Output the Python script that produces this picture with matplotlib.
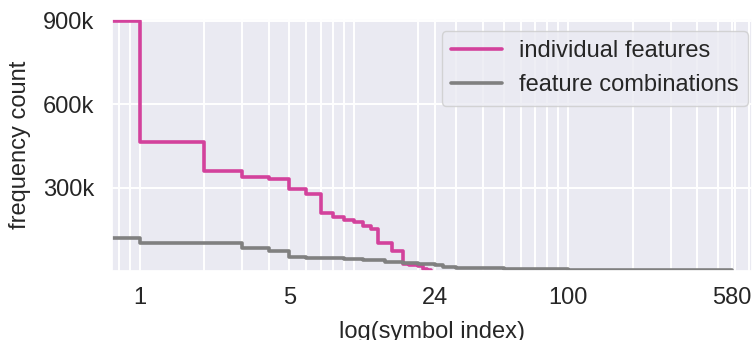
import matplotlib
matplotlib.use('Agg')
import matplotlib.pyplot as plt
import seaborn as sns
from matplotlib.ticker import FixedLocator, NullFormatter

# step breakpoints: value holds from this index up to the next one
feat_idx = list(range(24))
feat_count = [900000, 464000, 360000, 338000, 332000, 296000, 276000, 207000,
              194000, 182000, 176000, 161000, 151000, 99000, 99000, 72000,
              72000, 24000, 22000, 20000, 18000, 6000, 5000, 4000]

combo_idx = [0, 1, 3, 4, 5, 6, 7, 9, 11, 14, 17, 20, 24, 26, 30, 40, 50,
             70, 100, 150, 250, 400, 580]
combo_count = [117000, 99000, 81000, 71000, 50000, 48000, 45000, 42000, 39000,
               33000, 28000, 24000, 20000, 15000, 12000, 10000, 8000, 6000,
               4500, 3500, 2500, 2000, 1500]

xticks = [1, 5, 24, 100, 580]
xtick_labels = ['1', '5', '24', '100', '580']
yticks = [300000, 600000, 900000]
ytick_labels = ['300k', '600k', '900k']

sns.set_theme(style='darkgrid')
plt.rcParams['font.family'] = ['Liberation Sans', 'DejaVu Sans']

FS = 17

fig = plt.figure(figsize=(7.54, 3.4), dpi=100)
ax = fig.add_axes([112/754, 1 - 271/340, 640/754, 252/340])

ax.plot(feat_idx, feat_count, drawstyle='steps-post', color='#d3429c',
        lw=2.6, label='individual features')
ax.plot(combo_idx, combo_count, drawstyle='steps-post', color='#808080',
        lw=2.6, label='feature combinations')

ax.set_xscale('log')
ax.set_xlim(0.743, 720)
ax.set_ylim(0, 906000)

ax.set_xticks(xticks)
ax.set_xticklabels(xtick_labels)
minor = [0.8, 0.9] + [m * 10 ** k for k in range(3) for m in range(2, 11)]
ax.xaxis.set_minor_locator(FixedLocator(minor))
ax.xaxis.set_minor_formatter(NullFormatter())
ax.set_yticks(yticks)
ax.set_yticklabels(ytick_labels)

ax.grid(which='both', color='white', lw=1.4)
ax.tick_params(axis='x', which='both', length=0, pad=11.5, labelsize=FS)
ax.tick_params(axis='y', length=0, pad=13, labelsize=FS)

ax.set_xlabel('log(symbol index)', fontsize=FS, labelpad=9)
ax.set_ylabel('frequency count', fontsize=FS, labelpad=8)

ax.legend(loc='upper right', bbox_to_anchor=(1 - 4/640, 1 - 12/252),
          fontsize=FS, handlelength=2.15, handletextpad=0.72,
          borderaxespad=0, framealpha=0.8)

fig.savefig('out.png', dpi=100)
